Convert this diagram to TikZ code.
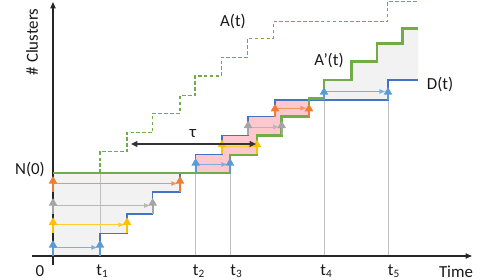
\documentclass[tikz,border=0pt]{standalone}
\usepackage{fontspec}
\setmainfont{Carlito}
\usetikzlibrary{arrows.meta}

\definecolor{dblue}{RGB}{68,114,196}
\definecolor{lblue}{RGB}{91,155,213}
\definecolor{orng}{RGB}{237,125,49}
\definecolor{gry}{RGB}{165,165,165}
\definecolor{yllw}{RGB}{255,192,0}
\definecolor{grn}{RGB}{112,173,71}
\definecolor{pnk}{RGB}{255,199,206}
\definecolor{fillgray}{RGB}{242,242,242}

\begin{document}
\begin{tikzpicture}[
  x=0.025cm, y=-0.025cm,
  axis/.style={line width=0.9pt, draw=black!85, -{Triangle[length=1.6mm, width=1.3mm]}},
  guide/.style={line width=0.4pt, draw=black!25},
  depline/.style={line width=0.9pt, draw=dblue},
  arrline/.style={line width=2.1pt, draw=grn},
  arrdash/.style={line width=1.1pt, draw=grn, dash pattern=on 2.6pt off 1.6pt},
  uparrow/.style={line width=1.4pt, -{Triangle[length=1.9mm, width=2mm]}},
  waitarrow/.style={line width=0.6pt, -{Triangle[length=1.4mm, width=1.1mm]}},
  tauarrow/.style={line width=0.9pt, draw=black!80,
    {Triangle[length=1.6mm, width=1.5mm]}-{Triangle[length=1.6mm, width=1.5mm]}},
  lbl/.style={font=\fontsize{12}{14}\selectfont, text=black!90, inner sep=1pt},
]
\useasboundingbox (0,0) rectangle (490,280);

% Waiting areas
\fill[fillgray] (53,173) -- (180,173) -- (180,192) -- (152.7,192) -- (152.7,214)
  -- (127,214) -- (127,233.3) -- (100,233.3) -- (100,256) -- (53,256) -- cycle;
\fill[fillgray] (324,100) -- (324,80) -- (351.7,80) -- (351.7,61.7) -- (377,61.7)
  -- (377,43.3) -- (402.7,43.3) -- (402.7,28.3) -- (418,28.3) -- (418,80)
  -- (388,80) -- (388,100) -- cycle;
\fill[pnk] (195.7,173) -- (195.7,154.5) -- (222,154.5) -- (222,135.5) -- (248,135.5)
  -- (248,116.7) -- (275,116.7) -- (275,100) -- (309,100) -- (309,116.7)
  -- (281.7,116.7) -- (281.7,135.5) -- (257,135.5) -- (257,154.5) -- (230,154.5)
  -- (230,173) -- cycle;

% Time marks
\foreach \tx/\ty in {100/173, 195.7/173, 230/173, 324/100, 388/100} {
  \draw[guide] (\tx,256) -- (\tx,\ty);
}

% Axes
\draw[axis] (32,256) -- (472,256);
\draw[axis] (53,265) -- (53,2);

% Departures D(t)
\draw[depline] (100,256) -- (100,233.3) -- (127,233.3) -- (127,214) -- (152.7,214)
  -- (152.7,192) -- (180,192) -- (180,173) -- (195.7,173) -- (195.7,154.5)
  -- (222,154.5) -- (222,135.5) -- (248,135.5) -- (248,116.7) -- (275,116.7)
  -- (275,100) -- (388,100) -- (388,80) -- (418,80);

% Arrivals A(t)
\draw[arrdash] (100,173) -- (100,151.7) -- (127,151.7) -- (127,132.7) -- (152.7,132.7)
  -- (152.7,113.3) -- (180,113.3) -- (180,95.7) -- (195,95.7) -- (195,76)
  -- (221.5,76) -- (221.5,57.3) -- (247.3,57.3) -- (247.3,38.3) -- (273.3,38.3)
  -- (273.3,21.7) -- (387.3,21.7) -- (387.3,1.7) -- (418,1.7);

% Shifted arrivals A'(t)
\draw[arrline] (53,173) -- (230,173) -- (230,155) -- (257,155) -- (257,135.5)
  -- (281.7,135.5) -- (281.7,116.7) -- (309,116.7) -- (309,98.5) -- (324,98.5)
  -- (324,80) -- (351.7,80) -- (351.7,61.7) -- (377,61.7) -- (377,43.3)
  -- (402.7,43.3) -- (402.7,28.3) -- (418,28.3);

% Cluster arrivals and departures
\foreach \xa/\xb/\base/\len/\col in {53/100/256/16/lblue, 53/127/233.3/16/yllw,
    53/152.7/214/16/gry, 53/180/192/16/orng, 195.7/230/173/15/lblue,
    222/257/154.5/15/yllw, 248/281.7/135.5/15/gry, 275/309/116.7/13/orng,
    324/388/100/13/lblue} {
  \draw[waitarrow, \col!80] (\xa,\base-8.5) -- (\xb-3,\base-8.5);
  \draw[uparrow, \col] (\xa,\base) -- (\xa,\base-\len);
  \draw[uparrow, \col] (\xb,\base) -- (\xb,\base-\len);
}

% Delay
\coordinate (tauL) at (131,144);
\coordinate (tauR) at (256,144);
\draw[tauarrow] (tauL) -- (tauR);

% Labels
\node[lbl] (lblA) at (233,22) {A(t)};
\node[lbl] (lblAp) at (329,61) {A’(t)};
\node[lbl] (lblD) at (440,85) {D(t)};
\node[lbl] (lblN) at (30,170) {N(0)};
\node[lbl] (lbltau) at (193,134) {τ};
\node[lbl] (lblzero) at (40,271) {0};
\foreach \i/\tx in {1/102.5, 2/199, 3/236.5, 4/326.5, 5/394} {
  \node[lbl] (lblt\i) at (\tx,271) {t\textsubscript{\i}};
}
\node[lbl] (lblTime) at (456,272) {Time};
\node[lbl, rotate=90] (lblClusters) at (32,42) {\# Clusters};

\end{tikzpicture}
\end{document}
